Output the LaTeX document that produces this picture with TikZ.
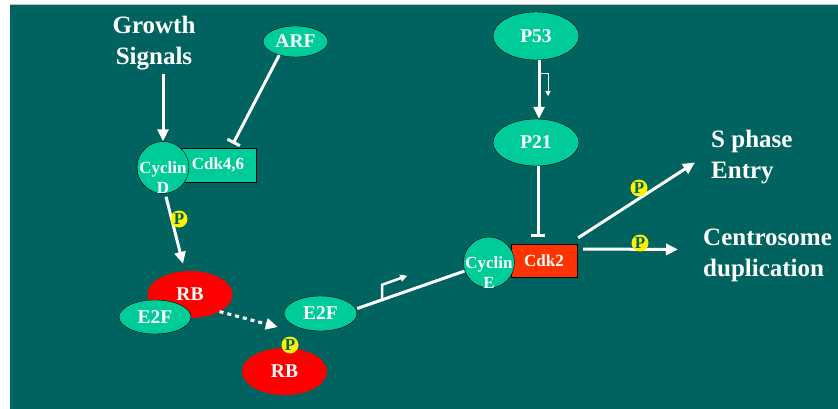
\documentclass[tikz,border=0pt]{standalone}
\usepackage{fontspec}
\setmainfont{Liberation Serif}
\usetikzlibrary{shapes.geometric,arrows.meta}
\definecolor{slidebg}{RGB}{0,99,96}
\definecolor{protgreen}{RGB}{0,204,153}
\definecolor{rbred}{RGB}{255,0,0}
\definecolor{cdkred}{RGB}{255,51,0}
\begin{document}
\begin{tikzpicture}[x=1pt,y=-1pt,
    prot/.style={ellipse,draw=black,fill=protgreen,text=white,inner sep=0pt,font=\fontsize{19.5}{22}\selectfont\bfseries},
    rb/.style={ellipse,fill=rbred,text=white,inner sep=0pt,minimum width=85pt,minimum height=47pt,font=\fontsize{19.5}{22}\selectfont\bfseries},
    cyc/.style={circle,draw=black,fill=protgreen,minimum size=52pt,inner sep=0pt},
    cdk/.style={rectangle,draw=black,inner sep=0pt,text=white,font=\fontsize{17}{20}\selectfont\bfseries},
    lbl/.style={text=white,align=center,inner sep=0pt,font=\fontsize{17}{20}\selectfont\bfseries},
    big/.style={text=white,inner sep=0pt,font=\fontsize{25}{31}\selectfont\bfseries},
    phos/.style={circle,fill=yellow,text=slidebg,inner sep=0pt,minimum size=17pt,font=\fontsize{17}{17}\selectfont\bfseries},
    act/.style={white,line width=3pt,-{Triangle[length=12pt,width=11pt]}},
    inh/.style={white,line width=3pt,-{Bar[width=14pt]}},
  ]
    \useasboundingbox (0,0) rectangle (838,409);
    %% slide background
    \fill[white] (0,0) rectangle (838,409);
    \fill[slidebg] (10,4) rectangle (838,409);
    \draw[gray!50,line width=1pt] (10,4.5) -- (838,4.5);

    %% G1 side
    \node[big,align=center] (growth) at (154,43) {Growth\\Signals};
    \node[prot,minimum width=65pt,minimum height=31pt] (arf) at (295.5,41.5) {ARF};
    \node[cdk,fill=protgreen,minimum width=76pt,minimum height=34pt] (cdk46) at (218,165) {Cdk4,6};
    \node[cyc] (cycD) at (163,167.5) {};
    \node[lbl] (cycDtxt) at ([yshift=-10pt]cycD.center) {Cyclin\\D};
    \node[rb] (rb1) at (190,294.5) {RB};
    \node[prot,minimum width=72pt,minimum height=34pt] (e2f1) at (155,317) {E2F};
    \node[prot,minimum width=73pt,minimum height=35pt] (e2f2) at (320.5,313.5) {E2F};
    \node[rb] (rb2) at (284.5,371.5) {RB};
    \node[phos] (prb2) at (290,345) {P};

    %% S side
    \node[prot,minimum width=86pt,minimum height=48pt] (p53) at (536,36) {P53};
    \node[prot,minimum width=86pt,minimum height=47pt] (p21) at (536,142.5) {P21};
    \node[cdk,fill=cdkred,minimum width=66pt,minimum height=33pt] (cdk2) at (544,260.5) {Cdk2};
    \node[cyc,minimum size=51pt] (cycE) at (489,262.5) {};
    \node[lbl] (cycEtxt) at ([yshift=-10pt]cycE.center) {Cyclin\\E};
    \node[big,anchor=west,align=left] (sphase) at (711,157) {S phase\\Entry};
    \node[big,anchor=west,align=left] (centro) at (703,255) {Centrosome\\duplication};

    %% connectors
    \draw[act,shorten <=4pt] (growth.south -| cycD.north) -- (cycD.north);
    \draw[inh] (arf.220) -- ([xshift=15pt,yshift=4pt]cdk46.north);
    \draw[act] ([xshift=3pt,yshift=-3pt]cycD.south) -- ([xshift=-7pt,yshift=7pt]rb1.north);
    \node[phos] (prb1) at (179,219) {P};
    \draw[act,dash pattern=on 4pt off 4pt] (rb1.-30) -- ([xshift=-6pt,yshift=-13.5pt]e2f2.west);
    \draw[white,line width=3pt,shorten >=26pt] ([yshift=5pt]e2f2.east) -- coordinate[pos=0.19] (prom) (cycE.center);
    \draw[white,line width=2.5pt,-{Triangle[length=7pt,width=7pt]}] (prom) -- ++(0,-15) -- ++(25,-9);
    \draw[act] ([xshift=3pt]p53.south) -- ([xshift=3pt]p21.north);
    \draw[white,line width=1pt,-{Triangle[length=5pt,width=5pt]}] ([xshift=5pt,yshift=-13pt]p53.south) -- ++(7,0) -- ++(0,23);
    \draw[inh,shorten >=7pt] ([xshift=2pt]p21.south) -- ([xshift=2pt]p21.south |- cdk2.north);
    \draw[act] ([xshift=1pt,yshift=6pt]cdk2.north east) -- ([xshift=-16pt,yshift=-5.5pt]sphase.west);
    \node[phos] (psph) at (639,188) {P};
    \draw[act] ([xshift=6pt,yshift=11.5pt]cdk2.east) -- ([xshift=-25pt,yshift=5.5pt]centro.west);
    \node[phos] (pcen) at (640,243) {P};
\end{tikzpicture}
\end{document}
